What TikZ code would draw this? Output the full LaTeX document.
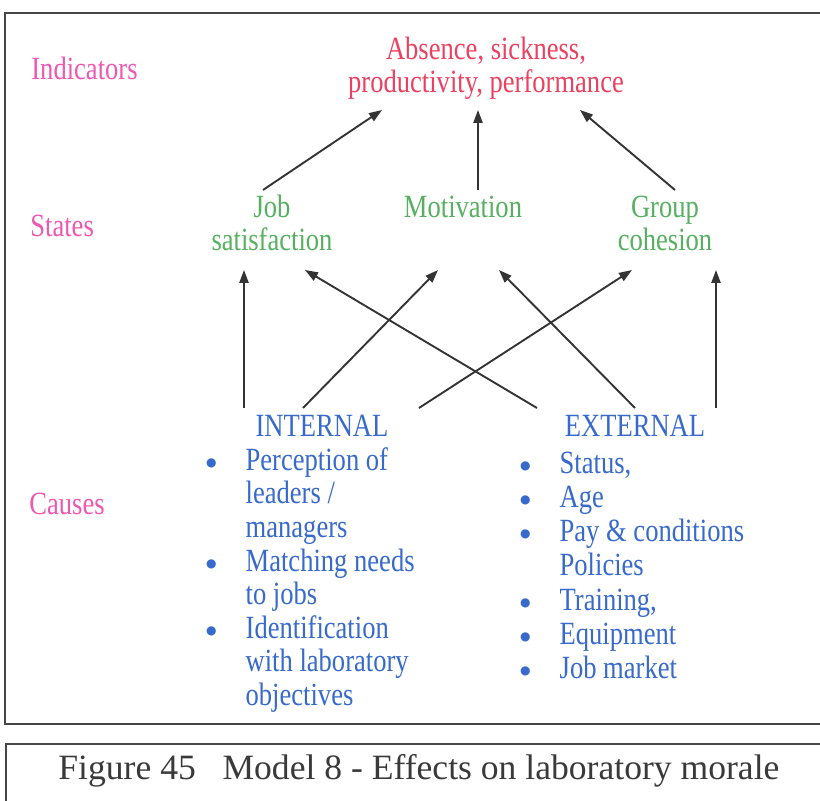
\documentclass[tikz,border=0pt]{standalone}
\usepackage{fontspec}
\setmainfont{Liberation Serif}[FakeStretch=0.82]
\newfontfamily\capfont{Liberation Serif}
\newfontfamily\symfont{DejaVu Sans}
\usepackage{xcolor}
\usetikzlibrary{matrix, positioning, arrows.meta, calc}

\definecolor{levelpink}{RGB}{238,88,178}
\definecolor{indred}{RGB}{236,64,96}
\definecolor{stategreen}{RGB}{86,176,96}
\definecolor{causeblue}{RGB}{56,106,204}
\definecolor{linegray}{RGB}{52,52,52}
\definecolor{framegray}{RGB}{70,70,70}
\definecolor{capgray}{RGB}{58,58,58}

\newcommand{\bul}{\raisebox{1.9pt}{\symfont\fontsize{6}{6}\selectfont ●}}

\begin{document}
\begin{tikzpicture}[x=0.5pt, y=-0.5pt,
  every node/.style={inner sep=0pt},
  txt/.style={font=\fontsize{16.2}{16.8}\selectfont, anchor=base},
  lvl/.style={txt, anchor=base west, color=levelpink},
  state/.style={txt, align=center, color=stategreen},
  arrow/.style={-{Triangle[length=6.5pt, width=4.6pt]}, linegray, line width=0.95pt},
  frame/.style={draw=framegray, line width=1.2pt}
]
\clip (0,0) rectangle (820,801);
\fill[white] (0,0) rectangle (820,801);

% outer frames (run off the right edge)
\draw[frame] (5,13) rectangle (860,724);
\draw[frame] (6,744) rectangle (860,840);

% level labels
\node[lvl] (indlab)   at (31,80)  {Indicators};
\node[lvl] (statelab) at (30,237) {States};
\node[lvl] (causelab) at (29,515) {Causes};

% indicators (base = last line)
\node[txt, align=center, color=indred] (ind) at (486,93)
  {Absence, sickness,\\productivity, performance};

% states
\node[state] (job) at (272,251) {Job\\satisfaction};
\node[state] (mot) at (463,218) {Motivation};
\node[state] (grp) at (665,251) {Group\\cohesion};

% causes
\node[txt, color=causeblue] (int) at (322,437) {INTERNAL};
\node[txt, color=causeblue] (ext) at (635,437) {EXTERNAL};

\matrix[matrix of nodes, anchor=north west, column sep=14.5pt, row sep=0pt,
        nodes={font=\fontsize{16.2}{16.8}\selectfont, color=causeblue,
               text height=11.5pt, text depth=5.3pt, anchor=base west},
        ampersand replacement=\&] (inlist) at (205.4,447) {
  \bul \& Perception of \\
       \& leaders / \\
       \& managers \\
  \bul \& Matching needs \\
       \& to jobs \\
  \bul \& Identification \\
       \& with laboratory \\
       \& objectives \\
};
\matrix[matrix of nodes, anchor=north west, column sep=14.5pt, row sep=0pt,
        nodes={font=\fontsize{16.2}{16.8}\selectfont, color=causeblue,
               text height=11.5pt, text depth=5.6pt, anchor=base west},
        ampersand replacement=\&] (exlist) at (519.4,450) {
  \bul \& Status, \\
  \bul \& Age \\
  \bul \& Pay {\char38} conditions \\
       \& Policies \\
  \bul \& Training, \\
  \bul \& Equipment \\
  \bul \& Job market \\
};

% states -> indicators
\draw[arrow] ($(job.base)+(-9,-61)$) -- ($(ind.base)+(-104,17)$);
\draw[arrow] ($(mot.base)+(15,-28)$) -- ($(ind.base)+(-8,17)$);
\draw[arrow] ($(grp.base)+(10,-61)$) -- ($(ind.base)+(94,17)$);

% internal causes -> states
\draw[arrow] ($(int.base)+(-78,-29)$) -- ($(job.base)+(-28,19)$);
\draw[arrow] ($(int.base)+(-19,-29)$) -- ($(mot.base)+(-25,52)$);
\draw[arrow] ($(int.base)+(97,-29)$)  -- ($(grp.base)+(-33,19)$);

% external causes -> states
\draw[arrow] ($(ext.base)+(-98,-29)$) -- ($(job.base)+(33,19)$);
\draw[arrow] ($(ext.base)+(0,-29)$)   -- ($(mot.base)+(36,52)$);
\draw[arrow] ($(ext.base)+(81,-29)$)  -- ($(grp.base)+(51,19)$);

% caption
\node[font=\capfont\fontsize{17.8}{20}\selectfont, anchor=base west, color=capgray]
  (cap) at (58,780) {Figure 45\hspace{0.75em}Model 8 - Effects on laboratory morale};
\end{tikzpicture}
\end{document}
